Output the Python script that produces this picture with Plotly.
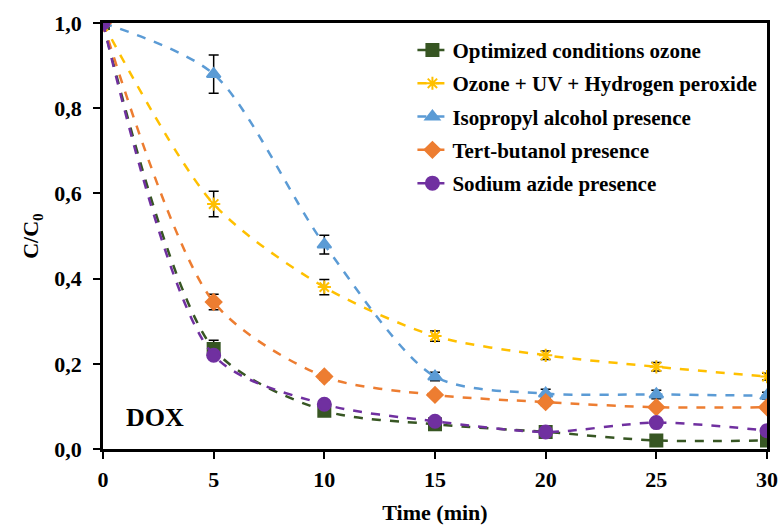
import plotly.graph_objects as go

time = [0, 5, 10, 15, 20, 25, 30]
names = ["Optimized conditions ozone", "Ozone + UV + Hydrogen peroxide",
         "Isopropyl alcohol presence", "Tert-butanol presence", "Sodium azide presence"]
ozone = [1.0, 0.235, 0.09, 0.058, 0.040, 0.020, 0.020]
ozone_uv_h2o2 = [1.0, 0.575, 0.380, 0.265, 0.220, 0.193, 0.170]
isopropyl = [1.0, 0.880, 0.480, 0.170, 0.130, 0.128, 0.125]
tert_butanol = [1.0, 0.345, 0.170, 0.127, 0.110, 0.098, 0.098]
sodium_azide = [1.0, 0.220, 0.105, 0.065, 0.040, 0.062, 0.043]

err_ozone = [0, 0.02, 0.008, 0.005, 0.005, 0.004, 0.004]
err_uv = [0, 0.030, 0.018, 0.012, 0.010, 0.010, 0.008]
err_iso = [0, 0.045, 0.022, 0.010, 0.010, 0.010, 0.008]
err_tert = [0, 0.018, 0.008, 0.006, 0.008, 0.006, 0.005]
err_azide = [0, 0.008, 0.006, 0.005, 0.005, 0.005, 0.005]

series = [ozone, ozone_uv_h2o2, isopropyl, tert_butanol, sodium_azide]
errors = [err_ozone, err_uv, err_iso, err_tert, err_azide]
colors = ["#375623", "#FFC000", "#5B9BD5", "#ED7D31", "#7030A0"]
symbols = ["square", "asterisk-open", "triangle-up", "diamond", "circle"]
sizes = [12, 11, 12, 12, 13]

fig = go.Figure()
for i, (n, y, e, c, s, sz) in enumerate(zip(names, series, errors, colors, symbols, sizes)):
    fig.add_trace(go.Scatter(
        x=time, y=y, name=n, mode="lines+markers", legendgroup="g%d" % i,
        line=dict(color=c, width=2.5, dash="dash", shape="spline", smoothing=0.8),
        marker=dict(symbol=s, size=sz, color=c, line=dict(color=c, width=2)),
        error_y=dict(type="data", array=e, visible=True, color="black", thickness=1.5, width=5),
    ))

font_family = "Liberation Serif"
bold = dict(family=font_family, color="black", weight="bold")
fig.add_annotation(x=2.35, y=0.075, text="DOX", showarrow=False,
                   font=dict(**bold, size=26))

fig.update_layout(
    width=781, height=527,
    margin=dict(l=103, r=14, t=23, b=78, autoexpand=False),
    paper_bgcolor="white", plot_bgcolor="white",
    separators=",.",
    font=dict(**bold, size=20),
    showlegend=True,
    legend=dict(x=0.466, y=0.984, xanchor="left", yanchor="top",
                bgcolor="rgba(0,0,0,0)", font=dict(**bold, size=21),
                tracegroupgap=3),
    xaxis=dict(range=[0, 30], tickvals=[0, 5, 10, 15, 20, 25, 30], automargin=False,
               showgrid=False, zeroline=False, showline=True, linecolor="black", linewidth=2.5,
               mirror=True, ticks="outside", ticklen=7, tickwidth=2, tickcolor="black",
               tickfont=dict(**bold, size=22), ticklabelstandoff=2,
               title=dict(text="Time (min)", font=dict(**bold, size=22), standoff=14)),
    yaxis=dict(range=[0, 1.0], tickvals=[0, 0.2, 0.4, 0.6, 0.8, 1.0], tickformat=".1f", automargin=False,
               showgrid=False, zeroline=False, showline=True, linecolor="black", linewidth=2.5,
               mirror=True, ticks="outside", ticklen=7, tickwidth=2, tickcolor="black",
               tickfont=dict(**bold, size=22), ticklabelstandoff=7,
               title=dict(text="C/C<sub>0</sub>", font=dict(**bold, size=22), standoff=10)),
)
fig.write_html("out.html")
